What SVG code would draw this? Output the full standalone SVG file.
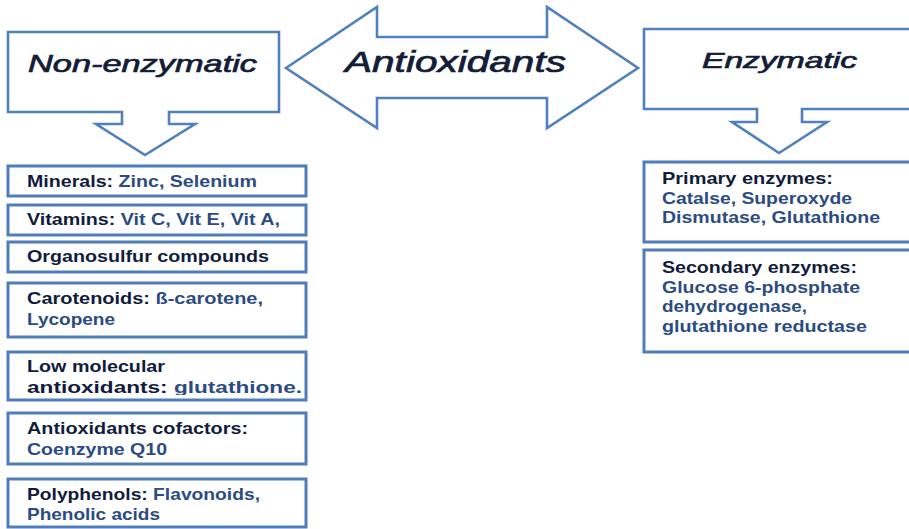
<svg xmlns="http://www.w3.org/2000/svg" width="909" height="529" viewBox="0 0 909 529">
<style>
.shape{fill:#fff;stroke:#5080bd;stroke-width:2.6;stroke-linejoin:miter}
.box{fill:#fff;stroke:#4f7dba;stroke-width:3}
.head{font-family:"Liberation Sans",Arial,sans-serif;font-style:italic;fill:#131d38;stroke:#131d38;stroke-width:0.7}
.t{font-family:"Liberation Sans",Arial,sans-serif;font-weight:bold;font-size:16.5px;fill:#111c3d}
.v{fill:#2b4c82}
</style>
<defs>
<clipPath id="c5"><rect x="8" y="352" width="298" height="43"/></clipPath>
<clipPath id="c6"><rect x="8" y="413" width="298" height="45"/></clipPath>
<clipPath id="c7"><rect x="8" y="479" width="298" height="41"/></clipPath>
</defs>
<rect width="909" height="529" fill="#fff"/>

<g id="connectors">
<path id="double-arrow" class="shape" d="M286,68 L377,7 V37 H547 V7 L638,68 L547,128 V98 H377 V128 Z"/>
</g>

<g id="antioxidants">
<text class="head" x="345" y="72" font-size="29" textLength="221" lengthAdjust="spacingAndGlyphs">Antioxidants</text>
</g>

<g id="non-enzymatic">
<path class="shape" d="M8,32 H279 V112 H169 V124 H195 L145,155 L96,124 H122 V112 H8 Z"/>
<text class="head" x="28" y="72" font-size="24" textLength="229" lengthAdjust="spacingAndGlyphs">Non-enzymatic</text>
</g>

<g id="enzymatic">
<path class="shape" d="M644,29 H912 V109 H802 V122 H827 L779,153 L732,122 H757 V109 H644 Z"/>
<text class="head" x="702" y="68" font-size="22" textLength="155" lengthAdjust="spacingAndGlyphs">Enzymatic</text>
</g>

<g id="minerals">
<rect class="box" x="8" y="166" width="298" height="30"/>
<text class="t" x="27" y="187" textLength="230" lengthAdjust="spacingAndGlyphs">Minerals:<tspan class="v"> Zinc, Selenium</tspan></text>
</g>

<g id="vitamins">
<rect class="box" x="8" y="205" width="298" height="30"/>
<text class="t" x="27" y="225" textLength="253" lengthAdjust="spacingAndGlyphs">Vitamins:<tspan class="v"> Vit C, Vit E, Vit A,</tspan></text>
</g>

<g id="organosulfur">
<rect class="box" x="8" y="242" width="298" height="30"/>
<text class="t" x="27" y="262" textLength="242" lengthAdjust="spacingAndGlyphs">Organosulfur compounds</text>
</g>

<g id="carotenoids">
<rect class="box" x="8" y="283" width="298" height="54"/>
<text class="t" x="27" y="304" textLength="236" lengthAdjust="spacingAndGlyphs">Carotenoids:<tspan class="v"> ß-carotene,</tspan></text>
<text class="t v" x="27" y="325" textLength="88" lengthAdjust="spacingAndGlyphs">Lycopene</text>
</g>

<g id="low-molecular">
<rect class="box" x="8" y="352" width="298" height="48"/>
<g clip-path="url(#c5)">
<text class="t" x="27" y="372" textLength="138" lengthAdjust="spacingAndGlyphs">Low molecular</text>
<text class="t" x="27" y="393" textLength="275" lengthAdjust="spacingAndGlyphs">antioxidants:<tspan class="v"> glutathione.</tspan></text>
</g>
</g>

<g id="cofactors">
<rect class="box" x="8" y="413" width="298" height="51"/>
<g clip-path="url(#c6)">
<text class="t" x="27" y="434" textLength="221" lengthAdjust="spacingAndGlyphs">Antioxidants cofactors:</text>
<text class="t v" x="27" y="455" textLength="140" lengthAdjust="spacingAndGlyphs">Coenzyme Q10</text>
</g>
</g>

<g id="polyphenols">
<rect class="box" x="8" y="479" width="298" height="48"/>
<g clip-path="url(#c7)">
<text class="t" x="27" y="500" textLength="233" lengthAdjust="spacingAndGlyphs">Polyphenols:<tspan class="v"> Flavonoids,</tspan></text>
<text class="t v" x="27" y="520" textLength="133" lengthAdjust="spacingAndGlyphs">Phenolic acids</text>
</g>
</g>

<g id="primary-enzymes">
<rect class="box" x="644" y="162" width="270" height="80"/>
<text class="t" x="662" y="184" textLength="171" lengthAdjust="spacingAndGlyphs">Primary enzymes:</text>
<text class="t v" x="662" y="204" textLength="190" lengthAdjust="spacingAndGlyphs">Catalse, Superoxyde</text>
<text class="t v" x="662" y="223" textLength="218" lengthAdjust="spacingAndGlyphs">Dismutase, Glutathione</text>
</g>

<g id="secondary-enzymes">
<rect class="box" x="644" y="250" width="270" height="102"/>
<text class="t" x="662" y="273" textLength="195" lengthAdjust="spacingAndGlyphs">Secondary enzymes:</text>
<text class="t v" x="662" y="293" textLength="198" lengthAdjust="spacingAndGlyphs">Glucose 6-phosphate</text>
<text class="t v" x="662" y="312" textLength="145" lengthAdjust="spacingAndGlyphs">dehydrogenase,</text>
<text class="t v" x="662" y="332" textLength="205" lengthAdjust="spacingAndGlyphs">glutathione reductase</text>
</g>
</svg>
